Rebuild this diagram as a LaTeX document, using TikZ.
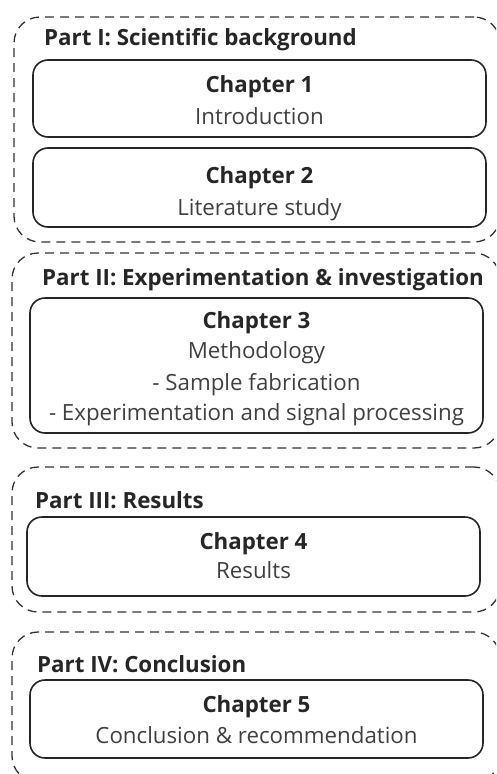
\documentclass[tikz,border=0pt]{standalone}
\usepackage{fontspec}
\setmainfont{Open Sans}
\begin{document}
\begin{tikzpicture}[x=1pt,y=-1pt,
  part/.style={draw=black!80, dash pattern=on 9pt off 6pt, line width=1.3pt, rounded corners=26pt, inner sep=0pt, outer sep=0pt, anchor=north west},
  chap/.style={draw=black!85, line width=1.6pt, rounded corners=15pt, inner sep=0pt, outer sep=0pt, anchor=north west},
  ptitle/.style={anchor=base west, inner sep=0pt, font=\fontsize{22.3}{26}\selectfont\bfseries, text=black!85},
  chead/.style={anchor=base, inner sep=0pt, font=\fontsize{22.3}{26}\selectfont\bfseries, text=black!85},
  cbody/.style={anchor=base, inner sep=0pt, font=\fontsize{22.3}{26}\selectfont, text=black!75}]
\useasboundingbox (0,0) rectangle (496,774);
\clip (0,0) rectangle (496,774);
% Part I
\node[part, minimum width=486pt, minimum height=225pt] (p1) at (14,17) {};
\node[ptitle] (t1) at (44,45) {Part I: Scientific background};
\node[chap, minimum width=453pt, minimum height=77pt] (c1) at (33,60) {};
\node[chead] (h1) at (259.5,92) {Chapter 1};
\node[cbody] (b1) at (259.5,124) {Introduction};
\node[chap, minimum width=453pt, minimum height=79pt] (c2) at (33,148) {};
\node[chead] (h2) at (259.5,183) {Chapter 2};
\node[cbody] (b2) at (259.5,215) {Literature study};
% Part II
\node[part, minimum width=488pt, minimum height=195pt] (p2) at (12,253) {};
\node[ptitle] (t2) at (42,285) {Part II: Experimentation \& investigation};
\node[chap, minimum width=453pt, minimum height=135pt] (c3) at (30,298) {};
\node[chead] (h3) at (256.5,328) {Chapter 3};
\node[cbody] (b3a) at (256.5,358) {Methodology};
\node[cbody] (b3b) at (256.5,390) {- Sample fabrication};
\node[cbody] (b3c) at (256.5,420) {- Experimentation and signal processing};
% Part III
\node[part, minimum width=488pt, minimum height=145pt] (p3) at (12,467) {};
\node[ptitle] (t3) at (35,508) {Part III: Results};
\node[chap, minimum width=453pt, minimum height=79pt] (c4) at (27,517) {};
\node[chead] (h4) at (253.5,549) {Chapter 4};
\node[cbody] (b4) at (253.5,578) {Results};
% Part IV
\node[part, minimum width=488pt, minimum height=150pt] (p4) at (12,632) {};
\node[ptitle] (t4) at (37,672) {Part IV: Conclusion};
\node[chap, minimum width=453pt, minimum height=78pt] (c5) at (30,680) {};
\node[chead] (h5) at (256.5,712) {Chapter 5};
\node[cbody] (b5) at (256.5,743) {Conclusion \& recommendation};
\end{tikzpicture}
\end{document}
